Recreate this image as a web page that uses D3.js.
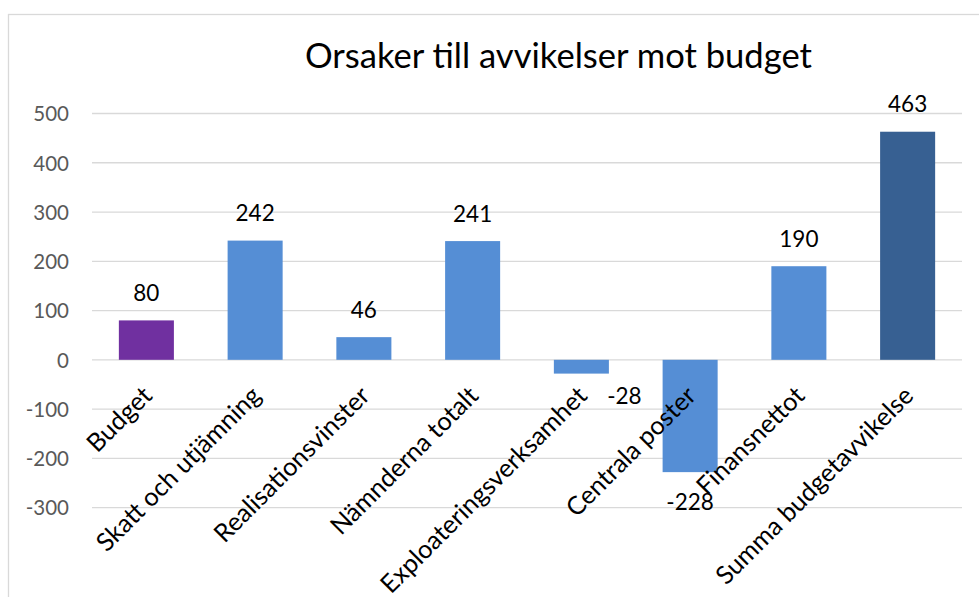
<!DOCTYPE html>
<html><head><meta charset="utf-8">
<script src="https://cdn.jsdelivr.net/npm/d3@7"></script>
<style>html,body{margin:0;padding:0;background:#fff;}svg{display:block;}</style>
</head><body>
<svg id="c" width="979" height="597"></svg>
<script>
const title = "Orsaker till avvikelser mot budget";
const categories = ["Budget","Skatt och utjämning","Realisationsvinster","Nämnderna totalt","Exploateringsverksamhet","Centrala poster","Finansnettot","Summa budgetavvikelse"];
const values = [80,242,46,241,-28,-228,190,463];
const yTicks = [-300,-200,-100,0,100,200,300,400,500];
const barColors = ["#7030A0","#558ED5","#558ED5","#558ED5","#558ED5","#558ED5","#558ED5","#376092"];

const FONT = "Lato, 'Open Sans', sans-serif";
const svg = d3.select("#c");
// chart frame
svg.append("rect").attr("x",8.5).attr("y",14.5).attr("width",1000).attr("height",1000)
  .attr("fill","#fff").attr("stroke","#d9d9d9").attr("stroke-width",1.3);

const x = d3.scaleBand().domain(categories).range([92,962]).paddingInner(0.494).paddingOuter(0.247);
const y = d3.scaleLinear().domain([-300,500]).range([507.6,113.5]);

// gridlines
svg.append("g").selectAll("line").data(yTicks).join("line")
  .attr("x1",92).attr("x2",962).attr("y1",d=>y(d)).attr("y2",d=>y(d))
  .attr("stroke","#d9d9d9").attr("stroke-width",1.3);

// y axis labels
const yAxis = d3.axisLeft(y).tickValues(yTicks).tickSize(0).tickPadding(0).tickFormat(d=>String(d));
const ga = svg.append("g").attr("transform","translate(69,0)").call(yAxis);
ga.select(".domain").remove();
ga.selectAll("text").attr("font-family",FONT).attr("font-size",20.5).attr("fill","#595959").attr("dy","0.36em");

// bars
svg.append("g").selectAll("rect").data(values).join("rect")
  .attr("x",(d,i)=>x(categories[i])).attr("width",x.bandwidth())
  .attr("y",d=>y(Math.max(0,d))).attr("height",d=>Math.abs(y(d)-y(0)))
  .attr("fill",(d,i)=>barColors[i]);

// data labels
const labelShift = {4:{dx:43,dy:30},5:{dx:0,dy:38}};
svg.append("g").selectAll("text").data(values).join("text")
  .attr("x",(d,i)=>x(categories[i])+x.bandwidth()/2+((labelShift[i]||{}).dx||0))
  .attr("y",(d,i)=> d>=0 ? y(d)-19.5 : y(d)+((labelShift[i]||{}).dy||32))
  .attr("text-anchor","middle").attr("font-family",FONT).attr("font-size",22.5).attr("fill","#000")
  .text(d=>d);

// category labels
const cg = svg.append("g");
const cl = cg.selectAll("text").data(categories).join("text")
  .attr("transform",d=>`translate(${x(d)+x.bandwidth()/2+1},391) rotate(-45)`)
  .attr("text-anchor","end").attr("dy","0.35em")
  .attr("font-family",FONT).attr("font-size",21).attr("fill","#000")
  .text(d=>d);
// fit font size to reference width of longest label
const ref = cl.filter((d,i)=>i===7).node();
const L = ref.getComputedTextLength();
cl.attr("font-size",21*267/L);

// title
const t = svg.append("text").attr("x",558.5).attr("y",67.5).attr("text-anchor","middle")
  .attr("font-family",FONT).attr("font-size",32).attr("fill","#000").text(title);
const tw = t.node().getComputedTextLength();
t.attr("font-size",32*507/tw);
</script>
</body></html>
